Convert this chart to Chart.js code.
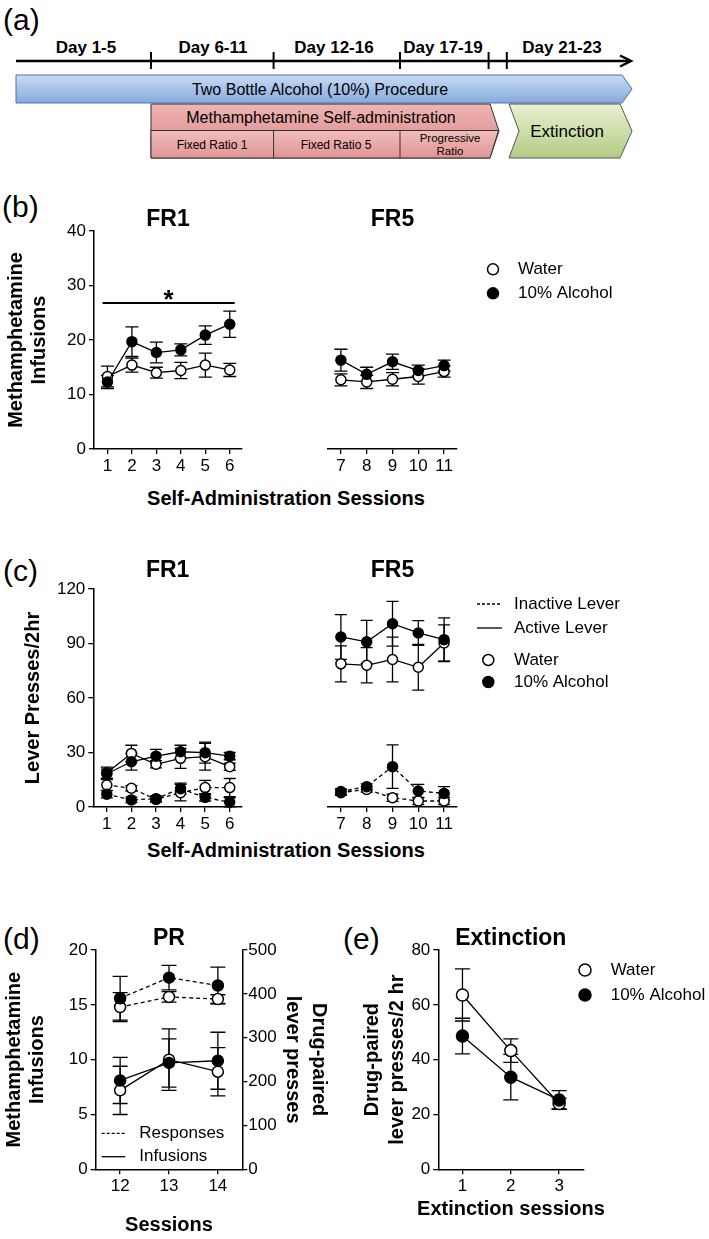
<!DOCTYPE html>
<html>
<head>
<meta charset="utf-8">
<script src="https://cdn.jsdelivr.net/npm/chart.js@4.4.1/dist/chart.umd.min.js"></script>
<style>
  body { margin: 0; background: #fff; }
  #fig { position: relative; width: 709px; height: 1239px; overflow: hidden; font-family: 'Liberation Sans', Arial, sans-serif; color: #000; }
  #fig canvas, #fig svg { position: absolute; }
  .lbl { position: absolute; font-size: 30px; line-height: 30px; }
  .xt { position: absolute; font-size: 20px; font-weight: bold; transform: translate(-50%, -50%); white-space: nowrap; }
</style>
</head>
<body>
<div id="fig">
  <svg width="709" height="170" style="left:0;top:0" font-family="'Liberation Sans', Arial, sans-serif">
    <defs>
      <linearGradient id="gBlue" x1="0" y1="0" x2="0" y2="1"><stop offset="0" stop-color="#c8dbf4"/><stop offset="1" stop-color="#86aadd"/></linearGradient>
      <linearGradient id="gRed" x1="0" y1="0" x2="0" y2="1"><stop offset="0" stop-color="#efb3b3"/><stop offset="1" stop-color="#d98686"/></linearGradient>
      <linearGradient id="gRed2" x1="0" y1="0" x2="0" y2="1"><stop offset="0" stop-color="#f2bdbd"/><stop offset="1" stop-color="#e09494"/></linearGradient>
      <linearGradient id="gGreen" x1="0" y1="0" x2="0" y2="1"><stop offset="0" stop-color="#e8f0d2"/><stop offset="1" stop-color="#b2cc84"/></linearGradient>
    </defs>
    <g stroke="#000" stroke-width="2.5" fill="none">
      <line x1="16" y1="61" x2="630" y2="61"/>
      <polyline points="620,55.5 631,61 620,66.5"/>
    </g>
    <g stroke="#000" stroke-width="2">
      <line x1="151" y1="52" x2="151" y2="69"/>
      <line x1="273.6" y1="52" x2="273.6" y2="69"/>
      <line x1="400" y1="52" x2="400" y2="69"/>
      <line x1="488.6" y1="52" x2="488.6" y2="69"/>
      <line x1="506.8" y1="52" x2="506.8" y2="69"/>
    </g>
    <g font-weight="bold" font-size="17" text-anchor="middle" dominant-baseline="central">
      <text x="86" y="47">Day 1-5</text>
      <text x="213" y="47">Day 6-11</text>
      <text x="334" y="47">Day 12-16</text>
      <text x="443" y="47">Day 17-19</text>
      <text x="562" y="47">Day 21-23</text>
    </g>
    <polygon points="16,75 622,75 632,89 622,103 16,103" fill="url(#gBlue)" stroke="#4f72a8" stroke-width="1"/>
    <polygon points="151,104 490,104 499,131 490,158 151,158" fill="url(#gRed)" stroke="#333" stroke-width="1"/>
    <polygon points="151,130.5 498.5,130.5 490,158 151,158" fill="url(#gRed2)" stroke="#333" stroke-width="1"/>
    <g stroke="#333" stroke-width="1">
      <line x1="273.6" y1="130.5" x2="273.6" y2="158"/>
      <line x1="400" y1="130.5" x2="400" y2="158"/>
    </g>
    <polygon points="509,104 620,104 632,131 620,158 509,158 519,131" fill="url(#gGreen)" stroke="#555" stroke-width="1"/>
    <g text-anchor="middle" dominant-baseline="central">
      <text x="320" y="89" font-size="16">Two Bottle Alcohol (10%) Procedure</text>
      <text x="321" y="117" font-size="16">Methamphetamine Self-administration</text>
      <text x="212" y="145" font-size="12">Fixed Ratio 1</text>
      <text x="336" y="145" font-size="12">Fixed Ratio 5</text>
      <text x="450" y="138" font-size="11.5">Progressive</text>
      <text x="450" y="151" font-size="11.5">Ratio</text>
      <text x="567" y="131" font-size="17">Extinction</text>
    </g>
  </svg>

  <div class="lbl" style="left:3px;top:5px">(a)</div>
  <div class="lbl" style="left:2px;top:192px">(b)</div>
  <div class="lbl" style="left:3px;top:556px">(c)</div>
  <div class="lbl" style="left:3px;top:924px">(d)</div>
  <div class="lbl" style="left:343px;top:924px">(e)</div>

  <canvas id="b1" width="250" height="272" style="left:0;top:208px"></canvas>
  <canvas id="b2" width="409" height="272" style="left:300px;top:208px"></canvas>
  <div class="xt" style="left:286px;top:498px">Self-Administration Sessions</div>

  <canvas id="c1" width="250" height="279" style="left:0;top:559px"></canvas>
  <canvas id="c2" width="409" height="279" style="left:300px;top:559px"></canvas>
  <div class="xt" style="left:286px;top:850px">Self-Administration Sessions</div>

  <canvas id="d" width="332" height="310" style="left:0;top:927px"></canvas>
  <canvas id="e" width="369" height="293" style="left:340px;top:927px"></canvas>
  <div class="xt" style="left:511px;top:1208px">Extinction sessions</div>
</div>

<script>
// sessions (x categories / tick labels)
const sessFR1 = [1, 2, 3, 4, 5, 6]
const sessFR5 = [7, 8, 9, 10, 11]
const sessPR = [12, 13, 14]
const sessExt = [1, 2, 3]

// (b) methamphetamine infusions
const infWaterFR1 = [13.3, 15.4, 14.0, 14.4, 15.4, 14.5]
const infWaterFR1Err = [1.9, 1.3, 1.0, 1.5, 2.2, 1.2]
const infAlcFR1 = [12.3, 19.7, 17.7, 18.2, 20.9, 22.9]
const infAlcFR1Err = [1.2, 2.7, 1.9, 1.1, 1.7, 2.4]
const infWaterFR5 = [12.7, 12.3, 12.8, 13.3, 14.2]
const infWaterFR5Err = [1.1, 1.2, 1.2, 1.4, 1.0]
const infAlcFR5 = [16.3, 13.7, 16.0, 14.4, 15.3]
const infAlcFR5Err = [2.0, 1.3, 1.4, 1.0, 1.0]
const sigFR1 = { from: 0.8, to: 6.2, y: 26.8, label: '*' }

// (c) lever presses / 2hr
const actWaterFR1 = [18.9, 29.5, 23.5, 26.8, 27.7, 22.2]
const actWaterFR1Err = [3.1, 4.5, 2.0, 5.5, 7.4, 2.0]
const actAlcFR1 = [18.3, 24.9, 28.0, 30.4, 29.9, 28.0]
const actAlcFR1Err = [2.5, 4.6, 3.7, 3.6, 5.8, 2.0]
const inactWaterFR1 = [12.1, 10.3, 4.2, 7.9, 10.7, 10.7]
const inactWaterFR1Err = [3.0, 1.5, 1.5, 4.5, 4.0, 5.0]
const inactAlcFR1 = [7.0, 3.9, 4.6, 10.1, 5.3, 2.6]
const inactAlcFR1Err = [2.0, 1.5, 1.5, 3.0, 2.0, 2.5]
const actWaterFR5 = [78.8, 78.0, 81.2, 76.9, 90.3]
const actWaterFR5Err = [9.9, 9.7, 12.3, 12.6, 10.0]
const actAlcFR5 = [93.6, 90.9, 100.9, 95.8, 92.1]
const actAlcFR5Err = [12.3, 11.8, 12.3, 6.8, 12.0]
const inactWaterFR5 = [7.9, 9.7, 5.1, 3.3, 3.3]
const inactWaterFR5Err = [1.5, 1.5, 2.0, 2.0, 2.0]
const inactAlcFR5 = [8.5, 11.2, 22.2, 8.8, 7.5]
const inactAlcFR5Err = [1.5, 1.5, 12.0, 3.7, 3.7]

// (d) progressive ratio
const respWater = [370, 393, 388]
const respWaterErr = [33, 12, 10]
const respAlc = [390, 437, 419]
const respAlcErr = [50, 28, 42]
const prInfWater = [7.2, 10.0, 8.9]
const prInfWaterErr = [2.2, 2.8, 2.2]
const prInfAlc = [8.1, 9.7, 9.9]
const prInfAlcErr = [2.1, 2.2, 2.6]

// (e) extinction
const extWater = [63.6, 43.3, 24.0]
const extWaterErr = [9.5, 4.3, 2.0]
const extAlc = [48.6, 33.6, 25.3]
const extAlcErr = [6.5, 8.3, 3.4]

const FONT = "'Liberation Sans', Arial, Helvetica, sans-serif"
Chart.defaults.font.family = FONT
Chart.defaults.font.size = 17
Chart.defaults.color = '#000'
Chart.defaults.animation = false
Chart.defaults.responsive = false
Chart.defaults.devicePixelRatio = 1
Chart.defaults.plugins.legend.display = false
Chart.defaults.plugins.tooltip.enabled = false

function series(xs, ys, errs, filled, dashed, opts) {
    opts = opts || {}
    return {
        data: xs.map((x, i) => ({ x: x, y: ys[i] })),
        errors: errs,
        cap: opts.cap || 6,
        yAxisID: opts.axis || 'y',
        borderColor: '#000',
        borderWidth: 1.3,
        borderDash: dashed ? [4, 3] : [],
        pointRadius: opts.r || 5,
        pointHoverRadius: opts.r || 5,
        pointBorderWidth: 1.5,
        pointBorderColor: '#000',
        pointBackgroundColor: filled ? '#000' : '#fff',
        tension: 0,
        clip: false
    }
}

function tickGrid() {
    return { display: true, drawOnChartArea: false, drawTicks: true, tickLength: 5, color: '#000', lineWidth: 1.3 }
}

function xAxis(min, max, ticksAt, height, title) {
    return {
        type: 'linear',
        position: 'bottom',
        min: min,
        max: max,
        afterBuildTicks: s => { s.ticks = ticksAt.map(v => ({ value: v })) },
        afterFit: s => { s.height = height },
        ticks: { padding: 2, autoSkip: false, maxRotation: 0 },
        grid: tickGrid(),
        border: { display: true, color: '#000', width: 1.5 },
        title: {
            display: !!title,
            text: title,
            font: { size: 20, weight: 'bold', lineHeight: 1.2 },
            padding: { top: 0, bottom: 0 }
        }
    }
}

function yAxis(position, min, max, step, width, title, pad, lh) {
    return {
        type: 'linear',
        position: position,
        min: min,
        max: max,
        afterFit: s => { s.width = width },
        ticks: { stepSize: step, padding: position === 'left' ? 3 : 1 },
        grid: tickGrid(),
        border: { display: true, color: '#000', width: 1.5 },
        title: {
            display: !!title,
            text: title,
            font: { size: 20, weight: 'bold', lineHeight: lh || 1.15 },
            padding: { top: pad || 0, bottom: 0 }
        }
    }
}

function hiddenY(min, max) {
    return { type: 'linear', display: false, min: min, max: max }
}

function panelTitle(text, gap) {
    return {
        display: true,
        text: text,
        fullSize: false,
        font: { size: 23, weight: 'bold', lineHeight: 1 },
        padding: { top: 0, bottom: gap }
    }
}

// vertical SEM bars, drawn under the lines and markers
const errorBars = {
    id: 'errorBars',
    beforeDatasetsDraw(chart) {
        const ctx = chart.ctx
        ctx.save()
        ctx.strokeStyle = '#000'
        ctx.lineWidth = 1.3
        chart.data.datasets.forEach((ds, i) => {
            if (!ds.errors) return
            const meta = chart.getDatasetMeta(i)
            const ys = chart.scales[meta.yAxisID]
            meta.data.forEach((pt, j) => {
                const v = ds.data[j].y
                const e = ds.errors[j]
                const top = ys.getPixelForValue(v + e)
                const bot = ys.getPixelForValue(v - e)
                ctx.beginPath()
                ctx.moveTo(pt.x, top); ctx.lineTo(pt.x, bot)
                ctx.moveTo(pt.x - ds.cap, top); ctx.lineTo(pt.x + ds.cap, top)
                ctx.moveTo(pt.x - ds.cap, bot); ctx.lineTo(pt.x + ds.cap, bot)
                ctx.stroke()
            })
        })
        ctx.restore()
    }
}

function sigBar(bar) {
    return {
        id: 'sigBar',
        afterDatasetsDraw(chart) {
            const { ctx, scales } = chart
            const x0 = scales.x.getPixelForValue(bar.from)
            const x1 = scales.x.getPixelForValue(bar.to)
            const yy = scales.y.getPixelForValue(bar.y)
            ctx.save()
            ctx.strokeStyle = '#000'
            ctx.lineWidth = 2
            ctx.beginPath(); ctx.moveTo(x0, yy); ctx.lineTo(x1, yy); ctx.stroke()
            ctx.fillStyle = '#000'
            ctx.font = 'bold 26px ' + FONT
            ctx.textAlign = 'center'
            ctx.textBaseline = 'alphabetic'
            ctx.fillText(bar.label, (x0 + x1) / 2, yy + 5)
            ctx.restore()
        }
    }
}

// legend with markers and line samples, placed relative to the plot area
function markLegend(items, o) {
    return {
        id: 'markLegend',
        afterDraw(chart) {
            const { ctx, chartArea } = chart
            const ax = o.anchor === 'leftBottom' ? chartArea.left : chartArea.right
            const ay = o.anchor === 'leftBottom' ? chartArea.bottom : chartArea.top
            ctx.save()
            ctx.font = '17px ' + FONT
            ctx.textBaseline = 'middle'
            ctx.textAlign = 'left'
            ctx.strokeStyle = '#000'
            items.forEach((it, i) => {
                const y = ay + o.rows[i]
                if (it.kind === 'solid' || it.kind === 'dashed') {
                    ctx.lineWidth = 1.3
                    ctx.setLineDash(it.kind === 'dashed' ? [3, 2] : [])
                    ctx.beginPath(); ctx.moveTo(ax + o.lineFrom, y); ctx.lineTo(ax + o.lineTo, y); ctx.stroke()
                    ctx.setLineDash([])
                } else {
                    ctx.lineWidth = 1.5
                    ctx.beginPath()
                    ctx.arc(ax + o.markX, y, o.r || 5.5, 0, Math.PI * 2)
                    ctx.fillStyle = it.kind === 'filled' ? '#000' : '#fff'
                    ctx.fill(); ctx.stroke()
                }
                ctx.fillStyle = '#000'
                ctx.fillText(it.label, ax + o.textX, y)
            })
            ctx.restore()
        }
    }
}

const groupItems = [{ kind: 'open', label: 'Water' }, { kind: 'filled', label: '10% Alcohol' }]

function panel_b() {
    new Chart('b1', {
        type: 'line',
        data: { datasets: [
            series(sessFR1, infAlcFR1, infAlcFR1Err, true, false, { cap: 6.5 }),
            series(sessFR1, infWaterFR1, infWaterFR1Err, false, false, { cap: 6.5 })
        ] },
        options: {
            layout: { padding: { left: 0, right: 8, top: 0, bottom: 0 } },
            plugins: { title: panelTitle('FR1', 0) },
            scales: {
                x: xAxis(0.45, 6.5, sessFR1, 31),
                y: yAxis('left', 0, 40, 10, 94, ['Methamphetamine', 'Infusions'], 4.5)
            }
        },
        plugins: [errorBars, sigBar(sigFR1)]
    })

    new Chart('b2', {
        type: 'line',
        data: { datasets: [
            series(sessFR5, infAlcFR5, infAlcFR5Err, true, false, { cap: 6.5 }),
            series(sessFR5, infWaterFR5, infWaterFR5Err, false, false, { cap: 6.5 })
        ] },
        options: {
            layout: { padding: { left: 28, right: 252, top: 0, bottom: 0 } },
            plugins: { title: panelTitle('FR5', 0) },
            scales: {
                x: xAxis(6.5, 11.5, sessFR5, 31),
                y: hiddenY(0, 40)
            }
        },
        plugins: [errorBars, markLegend(groupItems, { anchor: 'rightTop', markX: 36, textX: 61, rows: [38.3, 62.3] })]
    })
}

function panel_c() {
    new Chart('c1', {
        type: 'line',
        data: { datasets: [
            series(sessFR1, actAlcFR1, actAlcFR1Err, true, false),
            series(sessFR1, inactAlcFR1, inactAlcFR1Err, true, true),
            series(sessFR1, actWaterFR1, actWaterFR1Err, false, false),
            series(sessFR1, inactWaterFR1, inactWaterFR1Err, false, true)
        ] },
        options: {
            layout: { padding: { left: 0, right: 8, top: 0, bottom: 0 } },
            plugins: { title: panelTitle('FR1', 7) },
            scales: {
                x: xAxis(0.45, 6.5, sessFR1, 31),
                y: yAxis('left', 0, 120, 30, 93.3, 'Lever Presses/2hr', 21.5)
            }
        },
        plugins: [errorBars]
    })

    new Chart('c2', {
        type: 'line',
        data: { datasets: [
            series(sessFR5, actAlcFR5, actAlcFR5Err, true, false),
            series(sessFR5, inactAlcFR5, inactAlcFR5Err, true, true),
            series(sessFR5, actWaterFR5, actWaterFR5Err, false, false),
            series(sessFR5, inactWaterFR5, inactWaterFR5Err, false, true)
        ] },
        options: {
            layout: { padding: { left: 28, right: 252, top: 0, bottom: 0 } },
            plugins: { title: panelTitle('FR5', 7) },
            scales: {
                x: xAxis(6.5, 11.5, sessFR5, 31),
                y: hiddenY(0, 120)
            }
        },
        plugins: [errorBars, markLegend([
            { kind: 'dashed', label: 'Inactive Lever' },
            { kind: 'solid', label: 'Active Lever' },
            { kind: 'open', label: 'Water' },
            { kind: 'filled', label: '10% Alcohol' }
        ], { anchor: 'rightTop', lineFrom: 20, lineTo: 45, markX: 31.3, textX: 57, rows: [15, 39, 71, 93] })]
    })
}

function panel_d() {
    new Chart('d', {
        type: 'line',
        data: { datasets: [
            series(sessPR, respAlc, respAlcErr, true, true, { axis: 'y2', cap: 7.5, r: 5.5 }),
            series(sessPR, prInfAlc, prInfAlcErr, true, false, { cap: 7.5, r: 5.5 }),
            series(sessPR, respWater, respWaterErr, false, true, { axis: 'y2', cap: 7.5, r: 5.5 }),
            series(sessPR, prInfWater, prInfWaterErr, false, false, { cap: 7.5, r: 5.5 })
        ] },
        options: {
            plugins: { title: panelTitle('PR', 0) },
            scales: {
                x: xAxis(11.5, 14.5, sessPR, 67.7, 'Sessions'),
                y: yAxis('left', 0, 20, 5, 95.7, ['Methamphetamine', 'Infusions'], 2.5),
                y2: yAxis('right', 0, 500, 100, 89.7, ['Drug-paired', 'lever presses'], 0, 1.3)
            }
        },
        plugins: [errorBars, markLegend([
            { kind: 'dashed', label: 'Responses' },
            { kind: 'solid', label: 'Infusions' }
        ], { anchor: 'leftBottom', lineFrom: 6, lineTo: 29.5, textX: 43.6, rows: [-36, -12.6] })]
    })
}

function panel_e() {
    new Chart('e', {
        type: 'line',
        data: { datasets: [
            series(sessExt, extAlc, extAlcErr, true, false, { cap: 7.5, r: 6 }),
            series(sessExt, extWater, extWaterErr, false, false, { cap: 7.5, r: 6 })
        ] },
        options: {
            layout: { padding: { left: 0, right: 125.7, top: 0, bottom: 0 } },
            plugins: { title: panelTitle('Extinction', 0) },
            scales: {
                x: xAxis(0.5, 3.5, sessExt, 50.7),
                y: yAxis('left', 0, 80, 20, 98.3, ['Drug-paired', 'lever presses/2 hr'], 20, 1.25)
            }
        },
        plugins: [errorBars, markLegend(groupItems, { anchor: 'rightTop', markX: 1.7, textX: 27.4, rows: [20, 45], r: 6 })]
    })
}

panel_b()
panel_c()
panel_d()
panel_e()
</script>
</body>
</html>
